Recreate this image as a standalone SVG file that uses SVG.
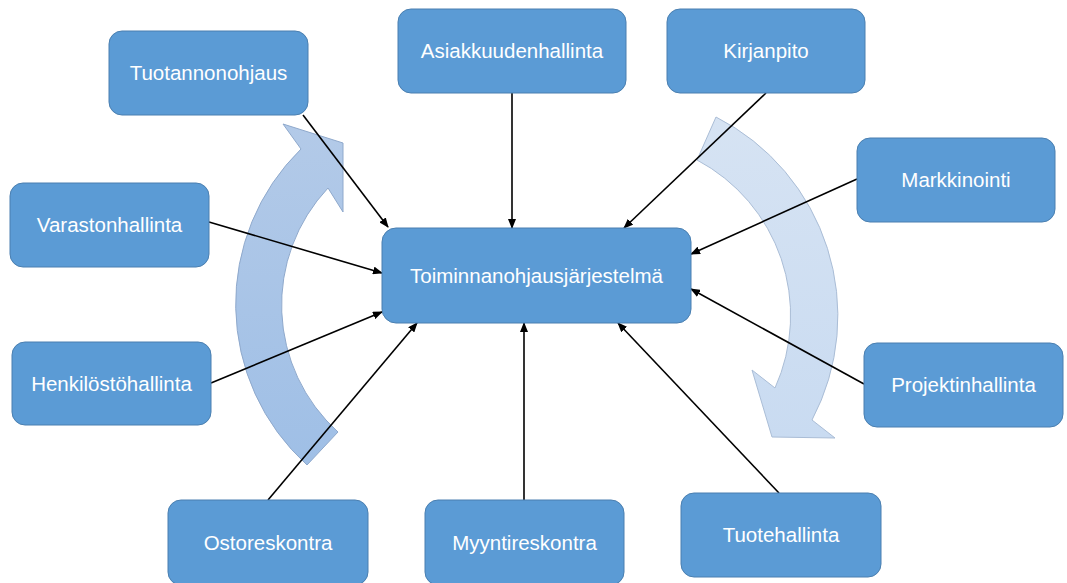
<svg xmlns="http://www.w3.org/2000/svg" width="1067" height="583" viewBox="0 0 1067 583">
  <style>
    .box { fill: #5b9bd5; stroke: #4a7fb0; stroke-width: 1; }
    .lbl { fill: #ffffff; font-family: "Liberation Sans", Arial, sans-serif; font-size: 20.5px; text-anchor: middle; }
    .link { stroke: #000000; stroke-width: 1.6; fill: none; marker-end: url(#head); }
  </style>
  <defs>
    <marker id="head" markerUnits="userSpaceOnUse" markerWidth="10" markerHeight="8" refX="9" refY="4" orient="auto">
      <path d="M0,0 L10,4 L0,8 Z" fill="#000000"/>
    </marker>
    <linearGradient id="gLeft" x1="0" y1="0" x2="0" y2="1">
      <stop offset="0" stop-color="#b3cae8"/>
      <stop offset="1" stop-color="#9fbfe6"/>
    </linearGradient>
    <linearGradient id="gRight" x1="0" y1="0" x2="0" y2="1">
      <stop offset="0" stop-color="#d6e3f3"/>
      <stop offset="1" stop-color="#c9dbf1"/>
    </linearGradient>
  </defs>

  <rect width="1067" height="583" fill="#ffffff"/>

  <!-- circular flow arrows -->
  <g id="flow-arrows">
    <path id="arc-left" d="M307,465 A217,217 0 0 1 301,149 L283,124 L343,143 L343,212 L328,188 A171,171 0 0 0 338,432 Z"
          fill="url(#gLeft)" stroke="#8fa9cc" stroke-width="1"/>
    <path id="arc-right" d="M716,117 A223,223 0 0 1 812,420 L835,438 L772,437 L752,370 L775,388 A176,176 0 0 0 697,160 Z"
          fill="url(#gRight)" stroke="#aabdd6" stroke-width="1"/>
  </g>

  <!-- connectors into the central system -->
  <g id="connectors">
    <line class="link" x1="303" y1="115" x2="388" y2="227"/>
    <line class="link" x1="512" y1="93" x2="512" y2="228"/>
    <line class="link" x1="766" y1="93" x2="624" y2="228"/>
    <line class="link" x1="857" y1="179" x2="691" y2="254"/>
    <line class="link" x1="209" y1="222" x2="382" y2="273"/>
    <line class="link" x1="211" y1="383" x2="382" y2="312"/>
    <line class="link" x1="268" y1="500" x2="417" y2="323"/>
    <line class="link" x1="524" y1="500" x2="524" y2="323"/>
    <line class="link" x1="779" y1="493" x2="618" y2="323"/>
    <line class="link" x1="864" y1="384" x2="691" y2="289"/>
  </g>

  <g id="toiminnanohjausjarjestelma">
    <rect class="box" x="382" y="228" width="309" height="95" rx="14"/>
    <text class="lbl" x="536.5" y="282.5">Toiminnanohjausjärjestelmä</text>
  </g>
  <g id="tuotannonohjaus">
    <rect class="box" x="109" y="31" width="199" height="84" rx="13"/>
    <text class="lbl" x="208.5" y="80">Tuotannonohjaus</text>
  </g>
  <g id="asiakkuudenhallinta">
    <rect class="box" x="398" y="9" width="228" height="84" rx="13"/>
    <text class="lbl" x="512" y="58">Asiakkuudenhallinta</text>
  </g>
  <g id="kirjanpito">
    <rect class="box" x="667" y="9" width="198" height="84" rx="13"/>
    <text class="lbl" x="766" y="58">Kirjanpito</text>
  </g>
  <g id="markkinointi">
    <rect class="box" x="857" y="138" width="198" height="84" rx="13"/>
    <text class="lbl" x="956" y="187">Markkinointi</text>
  </g>
  <g id="varastonhallinta">
    <rect class="box" x="10" y="183" width="199" height="84" rx="13"/>
    <text class="lbl" x="109.5" y="232">Varastonhallinta</text>
  </g>
  <g id="henkilostohallinta">
    <rect class="box" x="12" y="342" width="199" height="83" rx="13"/>
    <text class="lbl" x="111.5" y="390.5">Henkilöstöhallinta</text>
  </g>
  <g id="projektinhallinta">
    <rect class="box" x="864" y="343" width="199" height="84" rx="13"/>
    <text class="lbl" x="963.5" y="392">Projektinhallinta</text>
  </g>
  <g id="ostoreskontra">
    <rect class="box" x="168" y="500" width="200" height="85" rx="13"/>
    <text class="lbl" x="268" y="549.5">Ostoreskontra</text>
  </g>
  <g id="myyntireskontra">
    <rect class="box" x="425" y="500" width="199" height="85" rx="13"/>
    <text class="lbl" x="524.5" y="549.5">Myyntireskontra</text>
  </g>
  <g id="tuotehallinta">
    <rect class="box" x="681" y="493" width="200" height="84" rx="13"/>
    <text class="lbl" x="781" y="542">Tuotehallinta</text>
  </g>
</svg>
